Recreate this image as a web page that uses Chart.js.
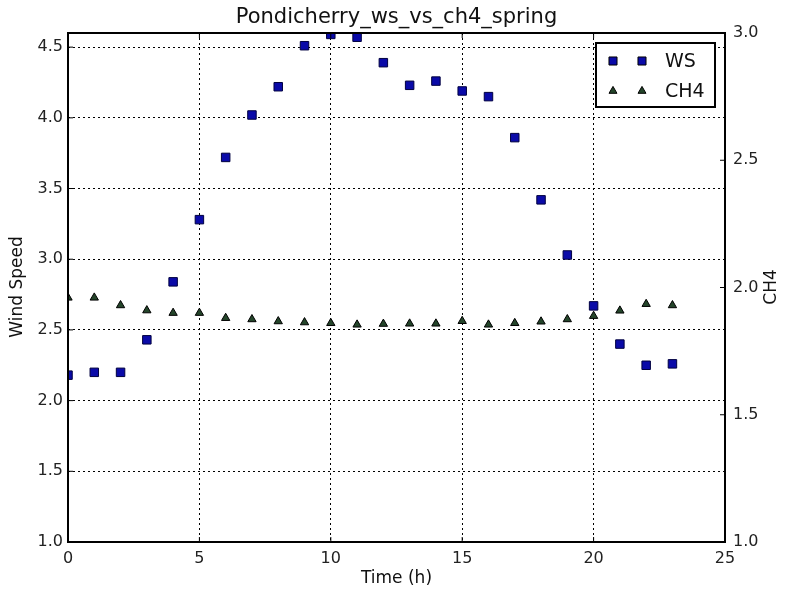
<!DOCTYPE html>
<html>
<head>
<meta charset="utf-8">
<script src="https://cdn.jsdelivr.net/npm/chart.js@4.4.1/dist/chart.umd.min.js"></script>
<style>
  body { margin: 0; background: #fff; }
  #wrap { width: 789px; height: 598px; }
</style>
</head>
<body>
<div id="wrap"><canvas id="myChart" width="789" height="598"></canvas></div>
<script>
// hours 0..23
var hours = [0,1,2,3,4,5,6,7,8,9,10,11,12,13,14,15,16,17,18,19,20,21,22,23];
var windSpeed = [2.18,2.20,2.20,2.43,2.84,3.28,3.72,4.02,4.22,4.51,4.59,4.57,4.39,4.23,4.26,4.19,4.15,3.86,3.42,3.03,2.67,2.40,2.25,2.26];
var ch4 = [1.96,1.96,1.93,1.91,1.90,1.90,1.88,1.875,1.867,1.863,1.86,1.854,1.857,1.858,1.858,1.868,1.854,1.86,1.866,1.875,1.888,1.909,1.935,1.93];
var xTicks = [0,5,10,15,20,25];
var wsTicks = [1,1.5,2,2.5,3,3.5,4,4.5];
var ch4Ticks = [1,1.5,2,2.5,3];
var titleText = 'Pondicherry_ws_vs_ch4_spring';

var wsColor = '#0a0aa8';
var ch4Color = '#24452a';

function pts(xs, ys) {
    var out = [];
    for (var i = 0; i < xs.length; i++) out.push({x: xs[i], y: ys[i]});
    return out;
}

var fontFam = '"DejaVu Sans", sans-serif';

// frame, inner ticks, title, axis labels, legend
var extras = {
    id: 'extras',
    afterDraw: function(chart) {
        var ctx = chart.ctx, a = chart.chartArea;
        ctx.save();
        ctx.strokeStyle = '#000';
        ctx.lineWidth = 2;
        ctx.strokeRect(a.left, a.top, a.right - a.left, a.bottom - a.top);

        // small tick marks inside the frame
        ctx.lineWidth = 1;
        ctx.beginPath();
        var ys = chart.scales.y, y2 = chart.scales.y2, xs = chart.scales.x;
        wsTicks.forEach(function(v) {
            var py = ys.getPixelForValue(v);
            ctx.moveTo(a.left, py); ctx.lineTo(a.left + 5, py);
        });
        ch4Ticks.forEach(function(v) {
            var py = y2.getPixelForValue(v);
            ctx.moveTo(a.right, py); ctx.lineTo(a.right - 5, py);
        });
        xTicks.forEach(function(v) {
            var px = xs.getPixelForValue(v);
            ctx.moveTo(px, a.bottom); ctx.lineTo(px, a.bottom - 5);
            ctx.moveTo(px, a.top); ctx.lineTo(px, a.top + 5);
        });
        ctx.stroke();

        ctx.fillStyle = '#111';
        ctx.font = '21px ' + fontFam;
        ctx.textAlign = 'center';
        ctx.textBaseline = 'middle';
        ctx.fillText(titleText, (a.left + a.right) / 2, 18);

        ctx.font = '17px ' + fontFam;
        ctx.fillText('Time (h)', (a.left + a.right) / 2, 579);

        ctx.save();
        ctx.translate(18, 287);
        ctx.rotate(-Math.PI / 2);
        ctx.fillText('Wind Speed', 0, 0);
        ctx.restore();

        ctx.save();
        ctx.translate(772, 287);
        ctx.rotate(-Math.PI / 2);
        ctx.fillText('CH4', 0, 0);
        ctx.restore();

        // legend box
        var lx = 596, ly = 43, lw = 119, lh = 64;
        ctx.fillStyle = '#fff';
        ctx.fillRect(lx, ly, lw, lh);
        ctx.lineWidth = 2;
        ctx.strokeRect(lx, ly, lw, lh);
        var items = [
            {label: 'WS', style: 'rect', r: 5.7, color: wsColor},
            {label: 'CH4', style: 'triangle', r: 4.6, color: ch4Color}
        ];
        for (var i = 0; i < items.length; i++) {
            var cy = ly + 18 + i * 30;
            var it = items[i];
            ctx.fillStyle = it.color;
            ctx.strokeStyle = '#000';
            ctx.lineWidth = 1;
            Chart.helpers.drawPoint(ctx, {pointStyle: it.style, radius: it.r, borderWidth: 1}, 613, cy);
            Chart.helpers.drawPoint(ctx, {pointStyle: it.style, radius: it.r, borderWidth: 1}, 642, cy);
            ctx.fillStyle = '#111';
            ctx.font = '19px ' + fontFam;
            ctx.textAlign = 'left';
            ctx.textBaseline = 'middle';
            ctx.fillText(it.label, 665, cy + 1);
        }
        ctx.restore();
    }
};

var ctx = document.getElementById('myChart').getContext('2d');
var chart = new Chart(ctx, {
    type: 'scatter',
    data: {
        datasets: [{
            label: 'WS',
            data: pts(hours, windSpeed),
            yAxisID: 'y',
            pointStyle: 'rect',
            pointRadius: 6,
            backgroundColor: wsColor,
            borderColor: '#000040',
            borderWidth: 1
        }, {
            label: 'CH4',
            data: pts(hours, ch4),
            yAxisID: 'y2',
            pointStyle: 'triangle',
            pointRadius: 4.8,
            backgroundColor: ch4Color,
            borderColor: '#000',
            borderWidth: 1
        }]
    },
    plugins: [extras],
    options: {
        responsive: false,
        animation: false,
        layout: { padding: {left: 0, right: 0, top: 33, bottom: 0} },
        plugins: {
            legend: { display: false },
            tooltip: { enabled: false }
        },
        scales: {
            x: {
                type: 'linear',
                min: 0, max: 25,
                afterBuildTicks: function(s) { s.ticks = xTicks.map(function(v) { return {value: v}; }); },
                afterFit: function(s) { s.height = 56; },
                grid: { color: '#000', lineWidth: 1, drawTicks: false },
                border: { display: false, dash: [2, 3] },
                ticks: { color: '#222', font: {size: 16, family: 'DejaVu Sans'}, padding: 7 }
            },
            y: {
                position: 'left',
                min: 1, max: 4.6,
                afterBuildTicks: function(s) { s.ticks = wsTicks.map(function(v) { return {value: v}; }); },
                afterFit: function(s) { s.width = 68; },
                grid: { color: '#000', lineWidth: 1, drawTicks: false },
                border: { display: false, dash: [2, 3] },
                ticks: { color: '#222', font: {size: 16, family: 'DejaVu Sans'}, padding: 5,
                    callback: function(v) { return v.toFixed(1); } }
            },
            y2: {
                position: 'right',
                min: 1, max: 3,
                afterBuildTicks: function(s) { s.ticks = ch4Ticks.map(function(v) { return {value: v}; }); },
                afterFit: function(s) { s.width = 64; },
                grid: { drawOnChartArea: false, drawTicks: false },
                border: { display: false },
                ticks: { color: '#222', font: {size: 16, family: 'DejaVu Sans'}, padding: 8,
                    callback: function(v) { return v.toFixed(1); } }
            }
        }
    }
});
</script>
</body>
</html>
